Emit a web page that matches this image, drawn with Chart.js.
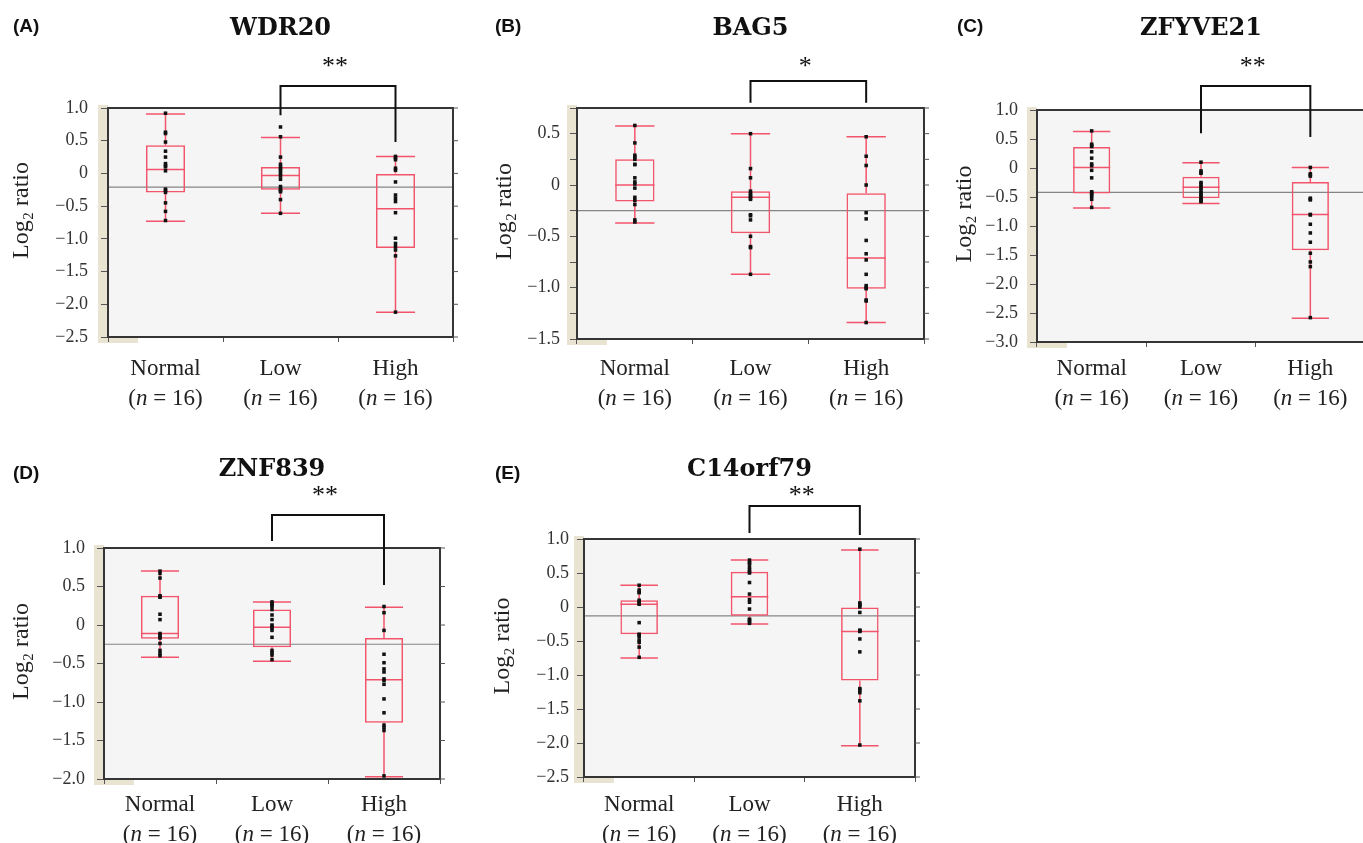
<!DOCTYPE html>
<html>
<head>
<meta charset="utf-8">
<script src="https://cdn.jsdelivr.net/npm/chart.js@4.4.1/dist/chart.umd.min.js"></script>
<style>
html, body { margin: 0; padding: 0; background: #fff; }
#fig { position: relative; width: 1363px; height: 843px; overflow: hidden; }
#fig canvas { position: absolute; }
</style>
</head>
<body>
<div id="fig">
  <canvas id="panel0" width="460" height="420" style="left:0px;top:0px"></canvas>
  <canvas id="panel1" width="475" height="420" style="left:460px;top:0px"></canvas>
  <canvas id="panel2" width="435" height="420" style="left:935px;top:0px"></canvas>
  <canvas id="panel3" width="460" height="423" style="left:0px;top:420px"></canvas>
  <canvas id="panel4" width="475" height="423" style="left:460px;top:420px"></canvas>
</div>
<script>
// Grupos e tamanhos
var groups = ['Normal', 'Low', 'High'];
var groupSizes = [16, 16, 16];
var genes = ['WDR20', 'BAG5', 'ZFYVE21', 'ZNF839', 'C14orf79'];
var panelLetters = ['(A)', '(B)', '(C)', '(D)', '(E)'];
var stars = ['**', '*', '**', '**', '**'];

// Eixo y (min, max, passo)
var yMins = [-2.5, -1.5, -3.0, -2.0, -2.5];
var yMaxs = [1.0, 0.75, 1.0, 1.0, 1.0];
var ySteps = [0.5, 0.25, 0.5, 0.5, 0.5];

// Linha cinza (media geral)
var grandMeans = [-0.21, -0.25, -0.42, -0.25, -0.13];

// Fim das pernas do colchete (Low, High), em log2
var bracketEnds = [[0.89, 0.48], [0.80, 0.80], [0.60, 0.535], [1.09, 0.52], [1.09, 1.06]];

// Boxplots: [min, q1, mediana, q3, max]
var wdr20Box = [[-0.73, -0.29, 0.06, 0.43, 0.91], [-0.61, -0.25, -0.03, 0.10, 0.55], [-2.12, -1.14, -0.54, 0.00, 0.26]];
var bag5Box = [[-0.37, -0.16, 0.00, 0.25, 0.575], [-0.87, -0.47, -0.12, -0.06, 0.50], [-1.34, -1.01, -0.71, -0.08, 0.47]];
var zfyve21Box = [[-0.69, -0.44, 0.01, 0.36, 0.63], [-0.61, -0.52, -0.33, -0.15, 0.09], [-2.59, -1.42, -0.80, -0.24, 0.01]];
var znf839Box = [[-0.42, -0.18, -0.11, 0.38, 0.70], [-0.47, -0.29, -0.03, 0.20, 0.30], [-1.97, -1.27, -0.71, -0.17, 0.23]];
var c14orf79Box = [[-0.75, -0.40, 0.04, 0.10, 0.32], [-0.25, -0.13, 0.15, 0.52, 0.69], [-2.04, -1.08, -0.36, 0.00, 0.84]];

// Pontos individuais
var wdr20Normal = [0.92, 0.63, 0.61, 0.48, 0.34, 0.25, 0.15, 0.12, 0.10, 0.04, -0.24, -0.26, -0.29, -0.45, -0.58, -0.72];
var wdr20Low = [0.71, 0.56, 0.25, 0.14, 0.10, 0.07, 0.04, 0.00, -0.04, -0.09, -0.20, -0.24, -0.26, -0.28, -0.40, -0.61];
var wdr20High = [0.26, 0.24, 0.21, 0.08, 0.05, -0.13, -0.33, -0.38, -0.43, -0.60, -0.99, -1.07, -1.12, -1.17, -1.26, -2.12];

var bag5Normal = [0.58, 0.41, 0.29, 0.27, 0.25, 0.20, 0.20, 0.07, 0.03, 0.01, -0.03, -0.12, -0.15, -0.19, -0.34, -0.36];
var bag5Low = [0.50, 0.16, 0.07, -0.06, -0.08, -0.10, -0.11, -0.13, -0.14, -0.29, -0.30, -0.34, -0.50, -0.60, -0.61, -0.87];
var bag5High = [0.47, 0.28, 0.19, 0.00, -0.27, -0.33, -0.54, -0.67, -0.73, -0.87, -0.98, -1.00, -1.01, -1.12, -1.13, -1.34];

var zfyve21Normal = [0.64, 0.41, 0.39, 0.37, 0.28, 0.17, 0.07, 0.04, -0.04, -0.17, -0.41, -0.43, -0.46, -0.49, -0.54, -0.68];
var zfyve21Low = [0.10, -0.05, -0.08, -0.09, -0.25, -0.28, -0.32, -0.35, -0.39, -0.43, -0.46, -0.49, -0.52, -0.54, -0.57, -0.58];
var zfyve21High = [0.01, -0.10, -0.12, -0.14, -0.52, -0.54, -0.55, -0.80, -0.81, -0.97, -1.12, -1.28, -1.47, -1.62, -1.70, -2.58];

var znf839Normal = [0.70, 0.67, 0.61, 0.38, 0.37, 0.36, 0.14, 0.07, -0.11, -0.13, -0.15, -0.17, -0.24, -0.33, -0.37, -0.40];
var znf839Low = [0.30, 0.28, 0.26, 0.24, 0.20, 0.13, 0.07, 0.00, -0.02, -0.04, -0.07, -0.16, -0.33, -0.36, -0.39, -0.45];
var znf839High = [0.24, 0.16, -0.07, -0.38, -0.49, -0.57, -0.61, -0.70, -0.72, -0.77, -0.96, -1.14, -1.30, -1.33, -1.37, -1.96];

var c14orf79Normal = [0.32, 0.25, 0.22, 0.21, 0.10, 0.08, 0.06, 0.04, -0.23, -0.40, -0.41, -0.44, -0.49, -0.52, -0.59, -0.74];
var c14orf79Low = [0.69, 0.65, 0.64, 0.59, 0.55, 0.52, 0.50, 0.36, 0.19, 0.11, 0.07, -0.03, -0.18, -0.19, -0.22, -0.24];
var c14orf79High = [0.85, 0.06, 0.04, 0.03, 0.00, -0.08, -0.34, -0.35, -0.36, -0.47, -0.66, -1.20, -1.22, -1.26, -1.38, -2.03];

var boxStats = [wdr20Box, bag5Box, zfyve21Box, znf839Box, c14orf79Box];
var samples = [
    [wdr20Normal, wdr20Low, wdr20High],
    [bag5Normal, bag5Low, bag5High],
    [zfyve21Normal, zfyve21Low, zfyve21High],
    [znf839Normal, znf839Low, znf839High],
    [c14orf79Normal, c14orf79Low, c14orf79High]
];

// Posicoes de cada painel na pagina (px)
var layout = [
    { x: 0,   y: 0,   w: 460, h: 420, L: 108,  T: 108, R: 453,  B: 337, titleY: 26,  letterX: 13,  letterY: 25,  yTitleX: 22,  tickPad: 13, xPad: 12, bracketTop: 22, starGap: 24 },
    { x: 460, y: 0,   w: 475, h: 420, L: 577,  T: 108, R: 924,  B: 339, titleY: 26,  letterX: 495, letterY: 25,  yTitleX: 505, tickPad: 10, xPad: 10, bracketTop: 27, starGap: 19 },
    { x: 935, y: 0,   w: 435, h: 420, L: 1037, T: 110, R: 1365, B: 342, titleY: 26,  letterX: 957, letterY: 25,  yTitleX: 965, tickPad: 12, xPad: 7,  bracketTop: 24, starGap: 24 },
    { x: 0,   y: 420, w: 460, h: 423, L: 104,  T: 548, R: 440,  B: 779, titleY: 467, letterX: 13,  letterY: 472, yTitleX: 22,  tickPad: 12, xPad: 6,  bracketTop: 33, starGap: 24 },
    { x: 460, y: 420, w: 475, h: 423, L: 584,  T: 539, R: 915,  B: 777, titleY: 467, letterX: 495, letterY: 472, yTitleX: 503, tickPad: 8,  xPad: 8,  bracketTop: 33, starGap: 15 }
];

var RED = '#f2546b';
var LABEL_FONT = 23;
var LABEL_LINE = 1.3;

function strokeLine(ctx, x1, y1, x2, y2) {
    ctx.beginPath();
    ctx.moveTo(x1, y1);
    ctx.lineTo(x2, y2);
    ctx.stroke();
}

function formatTick(v) {
    var r = Math.round(v * 100) / 100;
    if (Math.abs(r * 2 - Math.round(r * 2)) > 1e-6) return '';
    if (r === 0) return '0';
    return (r < 0 ? '\u2212' : '') + Math.abs(r).toFixed(1);
}

// "(n = 16)" com n em italico
function drawGroupSize(ctx, cx, y, n) {
    var parts = [['(', ''], ['n', 'italic '], [' = ' + n + ')', '']];
    var widths = parts.map(function (p) {
        ctx.font = p[1] + LABEL_FONT + 'px "Liberation Serif"';
        return ctx.measureText(p[0]).width;
    });
    var total = widths.reduce(function (s, w) { return s + w; }, 0);
    var x = cx - total / 2;
    ctx.textAlign = 'left';
    ctx.textBaseline = 'top';
    parts.forEach(function (p, k) {
        ctx.font = p[1] + LABEL_FONT + 'px "Liberation Serif"';
        ctx.fillText(p[0], x, y);
        x += widths[k];
    });
}

// Desenha caixas, bigodes, colchete e textos
function makeDecor(i) {
    var lay = layout[i];
    return {
        id: 'decor' + i,
        beforeDraw: function (chart) {
            var ctx = chart.ctx, a = chart.chartArea;
            ctx.save();
            ctx.fillStyle = '#e8e4d1';
            ctx.fillRect(a.left - 10, a.top - 3, 10, a.bottom - a.top + 9);
            ctx.fillRect(a.left - 10, a.bottom, 40, 6);
            ctx.fillStyle = '#f5f5f5';
            ctx.fillRect(a.left, a.top, a.right - a.left, a.bottom - a.top);
            ctx.restore();
        },
        beforeDatasetsDraw: function (chart) {
            var ctx = chart.ctx, a = chart.chartArea, ys = chart.scales.y;
            var meta = chart.getDatasetMeta(1);
            ctx.save();
            var ym = ys.getPixelForValue(grandMeans[i]);
            ctx.strokeStyle = '#858585';
            ctx.lineWidth = 1.2;
            strokeLine(ctx, a.left, ym, a.right, ym);

            ctx.strokeStyle = RED;
            ctx.lineWidth = 1.5;
            boxStats[i].forEach(function (s, g) {
                var el = meta.data[g];
                var x = el.x, hw = el.width / 2;
                var yMin = ys.getPixelForValue(s[0]);
                var yQ1 = ys.getPixelForValue(s[1]);
                var yMed = ys.getPixelForValue(s[2]);
                var yQ3 = ys.getPixelForValue(s[3]);
                var yMax = ys.getPixelForValue(s[4]);
                strokeLine(ctx, x, yMin, x, yQ1);
                strokeLine(ctx, x, yQ3, x, yMax);
                strokeLine(ctx, x - hw, yMin, x + hw, yMin);
                strokeLine(ctx, x - hw, yMax, x + hw, yMax);
                strokeLine(ctx, x - hw, yMed, x + hw, yMed);
            });
            ctx.restore();
        },
        afterDraw: function (chart) {
            var ctx = chart.ctx, a = chart.chartArea;
            var xs = chart.scales.x, ys = chart.scales.y;
            ctx.save();

            // moldura
            ctx.strokeStyle = '#353535';
            ctx.lineWidth = 2;
            ctx.strokeRect(a.left, a.top, a.right - a.left, a.bottom - a.top);

            // marcas do lado direito
            ctx.strokeStyle = '#555';
            ctx.lineWidth = 1;
            ys.ticks.forEach(function (t) {
                var y = ys.getPixelForValue(t.value);
                strokeLine(ctx, a.right, y, a.right + 5, y);
            });

            // segunda linha dos rotulos do eixo x
            ctx.fillStyle = '#222';
            var y2 = a.bottom + 9 + lay.xPad + LABEL_FONT * LABEL_LINE;
            groups.forEach(function (g, k) {
                drawGroupSize(ctx, xs.getPixelForValue(k), y2, groupSizes[k]);
            });

            // colchete de significancia
            var xL = xs.getPixelForValue(1), xR = xs.getPixelForValue(2);
            var yTop = a.top - lay.bracketTop;
            ctx.strokeStyle = '#111';
            ctx.lineWidth = 2;
            ctx.beginPath();
            ctx.moveTo(xL, ys.getPixelForValue(bracketEnds[i][0]));
            ctx.lineTo(xL, yTop);
            ctx.lineTo(xR, yTop);
            ctx.lineTo(xR, ys.getPixelForValue(bracketEnds[i][1]));
            ctx.stroke();

            ctx.fillStyle = '#111';
            ctx.textAlign = 'center';
            ctx.textBaseline = 'alphabetic';
            ctx.font = '26px "Liberation Serif"';
            ctx.fillText(stars[i], (xL + xR) / 2 - 3, yTop - lay.starGap + 12);

            // titulo do gene
            ctx.font = 'bold 24px "DejaVu Serif"';
            ctx.fillText(genes[i], (a.left + a.right) / 2, lay.titleY - lay.y + 9);

            // letra do painel
            ctx.textAlign = 'left';
            ctx.font = 'bold 19px "Liberation Sans"';
            ctx.fillText(panelLetters[i], lay.letterX - lay.x, lay.letterY - lay.y + 7);

            // titulo do eixo y
            ctx.translate(lay.yTitleX - lay.x, (a.top + a.bottom) / 2 - 12);
            ctx.rotate(-Math.PI / 2);
            ctx.textAlign = 'center';
            ctx.textBaseline = 'middle';
            ctx.font = '24px "Liberation Serif"';
            ctx.fillStyle = '#222';
            ctx.fillText('Log\u2082 ratio', 0, 0);
            ctx.restore();
        }
    };
}

function buildPanel(i) {
    var lay = layout[i];
    var points = [];
    samples[i].forEach(function (vals, g) {
        vals.forEach(function (v) {
            points.push({ x: groups[g], y: v });
        });
    });

    var ctx = document.getElementById('panel' + i).getContext('2d');
    return new Chart(ctx, {
        type: 'bar',
        data: {
            labels: groups,
            datasets: [{
                type: 'line',
                showLine: false,
                order: 0,
                data: points,
                pointStyle: 'rect',
                pointRadius: 2.5,
                pointBackgroundColor: '#111',
                pointBorderWidth: 0
            }, {
                type: 'bar',
                order: 1,
                data: boxStats[i].map(function (s) { return [s[1], s[3]]; }),
                backgroundColor: 'rgba(0,0,0,0)',
                borderColor: RED,
                borderWidth: 1.5,
                borderSkipped: false,
                barPercentage: 0.34,
                categoryPercentage: 1
            }]
        },
        options: {
            responsive: false,
            animation: false,
            events: [],
            layout: {
                padding: { left: 0, top: lay.T - lay.y, right: lay.x + lay.w - lay.R, bottom: 0 }
            },
            plugins: {
                legend: { display: false },
                tooltip: { enabled: false },
                title: { display: false }
            },
            scales: {
                x: {
                    offset: true,
                    afterFit: function (scale) { scale.height = lay.y + lay.h - lay.B; },
                    grid: { display: true, drawOnChartArea: false, drawTicks: true, tickLength: 5, color: '#555', offset: true },
                    border: { display: false },
                    ticks: {
                        autoSkip: false,
                        maxRotation: 0,
                        padding: lay.xPad,
                        color: '#222',
                        font: { family: 'Liberation Serif', size: LABEL_FONT, lineHeight: LABEL_LINE },
                        callback: function (v, idx) { return groups[idx]; }
                    }
                },
                y: {
                    min: yMins[i],
                    max: yMaxs[i],
                    afterFit: function (scale) { scale.width = lay.L - lay.x; },
                    grid: { display: true, drawOnChartArea: false, drawTicks: true, tickLength: 7, color: '#555' },
                    border: { display: false },
                    ticks: {
                        stepSize: ySteps[i],
                        padding: lay.tickPad,
                        color: '#333',
                        font: { family: 'Liberation Serif', size: 18 },
                        callback: formatTick
                    }
                }
            }
        },
        plugins: [makeDecor(i)]
    });
}

document.addEventListener('DOMContentLoaded', function () {
    for (var i = 0; i < genes.length; i++) {
        buildPanel(i);
    }
});
</script>
</body>
</html>
